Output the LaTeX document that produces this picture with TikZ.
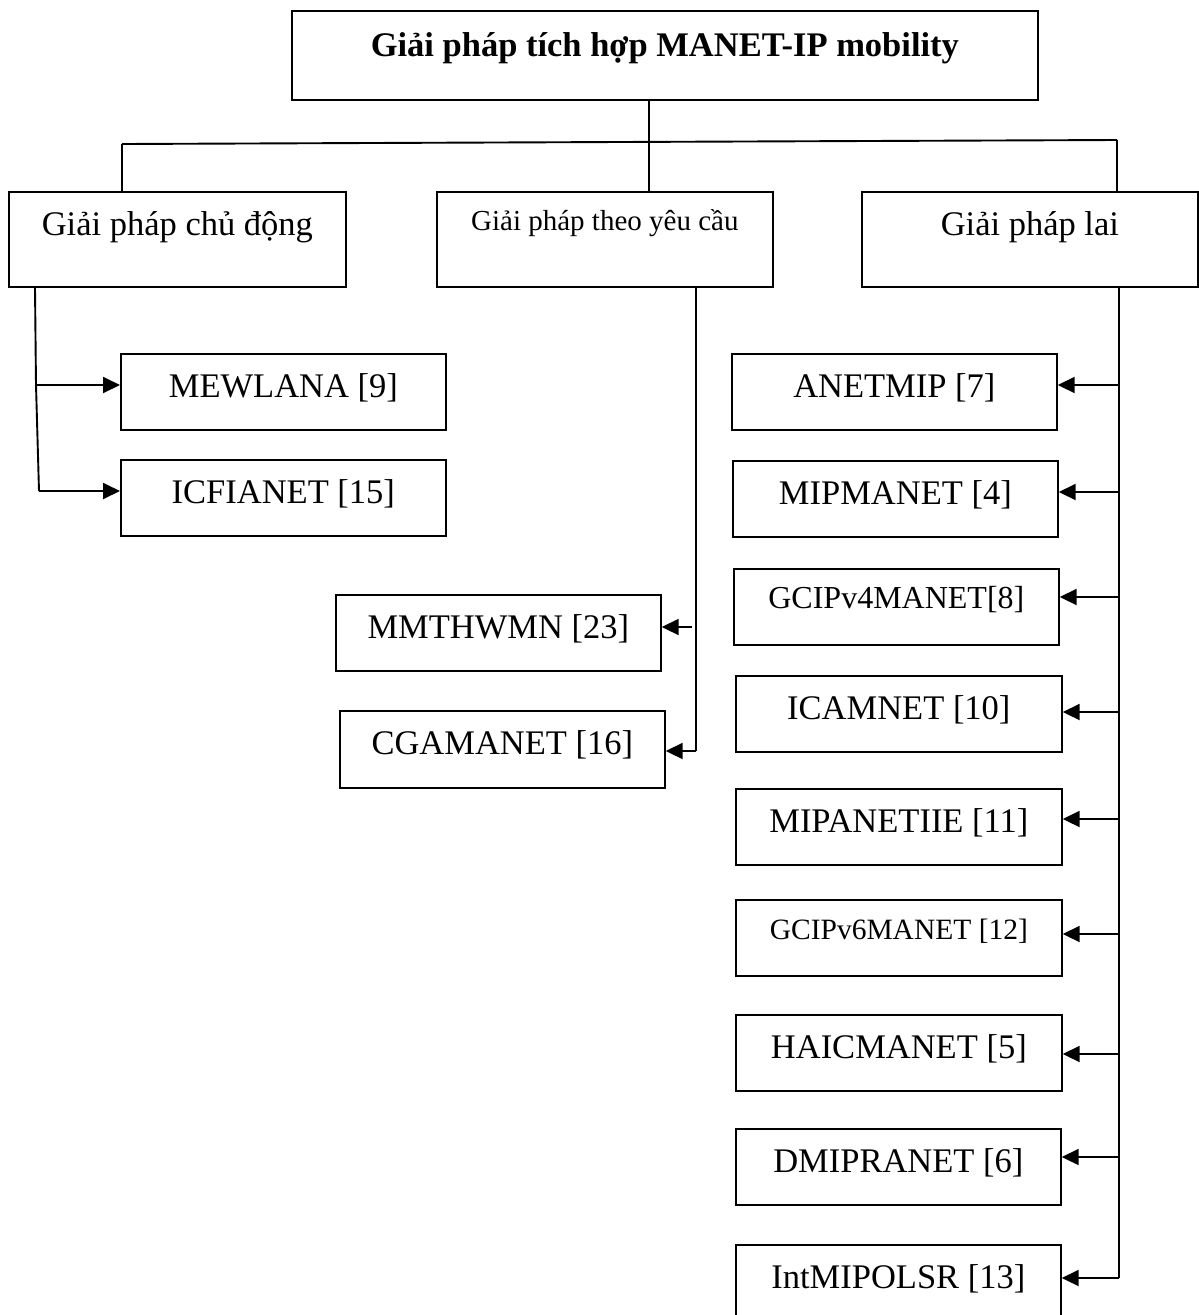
\documentclass[tikz,border=0pt]{standalone}
\usepackage{fontspec}
\setmainfont{Liberation Serif}
\usetikzlibrary{arrows.meta}

\begin{document}
\begin{tikzpicture}[x=1pt,y=-1pt,
  box/.style={draw, line width=1.7pt, inner sep=0pt, anchor=north west, align=center},
  headbox/.style={box, minimum width=746pt, text height=46pt, text depth=43pt,
                  font=\fontsize{34.5}{40}\selectfont\bfseries},
  catbox/.style={box, minimum width=337pt, text height=44pt, text depth=51pt,
                 font=\fontsize{34.5}{40}\selectfont},
  catsmall/.style={box, minimum width=336pt, text height=39pt, text depth=56pt,
                   font=\fontsize{29}{34}\selectfont},
  leaf/.style={box, minimum width=325pt, text height=44pt, text depth=32pt,
               font=\fontsize{34.5}{40}\selectfont},
  leafsmall/.style={leaf, text height=40pt, text depth=36pt},
  link/.style={line width=1.9pt},
  arr/.style={link, -{Triangle[length=17pt,width=16pt]}}
]
\useasboundingbox (0,0) rectangle (1199,1315);

% top level
\node[headbox] (title) at (291,10) {Giải pháp tích hợp MANET-IP mobility};

% three solution classes
\node[catbox] (ca) at (8,191) {Giải pháp chủ động};
\node[catsmall] (cb) at (436,191) {Giải pháp theo yêu cầu};
\node[catbox, minimum width=336pt] (cc) at (861,191) {Giải pháp lai};

% proactive solutions
\node[leaf] (mew) at (120,353) {MEWLANA [9]};
\node[leaf] (icf) at (120,459) {ICFIANET [15]};

% on-demand solutions
\node[leaf] (mmt) at (335,594) {MMTHWMN [23]};
\node[leaf, text depth=33pt] (cga) at (339,710) {CGAMANET [16]};

% hybrid solutions
\node[leaf] (ane) at (731,353) {ANETMIP [7]};
\node[leaf] (mip) at (732,460) {MIPMANET [4]};
\node[leafsmall, font=\fontsize{32}{38}\selectfont] (gc4) at (733,568) {GCIPv4MANET[8]};
\node[leaf, minimum width=326pt] (ica) at (735,675) {ICAMNET [10]};
\node[leaf, minimum width=326pt] (mie) at (735,788) {MIPANETIIE [11]};
\node[leafsmall, minimum width=326pt, font=\fontsize{29.5}{35}\selectfont] (gc6) at (735,899) {GCIPv6MANET [12]};
\node[leaf, minimum width=326pt] (hai) at (735,1014) {HAICMANET [5]};
\node[leaf] (dmi) at (735,1128) {DMIPRANET [6]};
\node[leaf] (int) at (735,1244) {IntMIPOLSR [13]};

% junction points of the tree
\coordinate (jl) at (122,144);
\coordinate (jm) at (649,142);
\coordinate (jr) at (1117,140);

\draw[link] (title.south -| jm) -- (jm |- cb.north);
\draw[link] (jl) -- (jr);
\draw[link] (jl) -- (jl |- ca.north);
\draw[link] (jr) -- (jr |- cc.north);

% proactive branch
\coordinate (la) at (36,385);
\coordinate (lb) at (39,491);
\draw[link] (ca.south -| 35,0) -- (la) -- (lb);
\draw[arr] (la) -- (la -| mew.west);
\draw[arr] (lb) -- (lb -| icf.west);

% on-demand branch
\coordinate (ma) at (692,627);
\coordinate (mb) at (696,751);
\draw[link] (cb.south -| mb) -- (mb);
\draw[arr] (ma) -- (ma -| mmt.east);
\draw[arr] (mb) -- (mb -| cga.east);

% hybrid branch
\coordinate (rb) at (1119,1278);
\draw[link] (cc.south -| rb) -- (rb);
\foreach \n/\y in {ane/385, mip/492, gc4/597, ica/712, mie/819, gc6/934, hai/1054, dmi/1157, int/1278}{
  \coordinate (r-\n) at (1119,\y);
  \draw[arr] (r-\n) -- (r-\n -| \n.east);
}
\end{tikzpicture}
\end{document}
